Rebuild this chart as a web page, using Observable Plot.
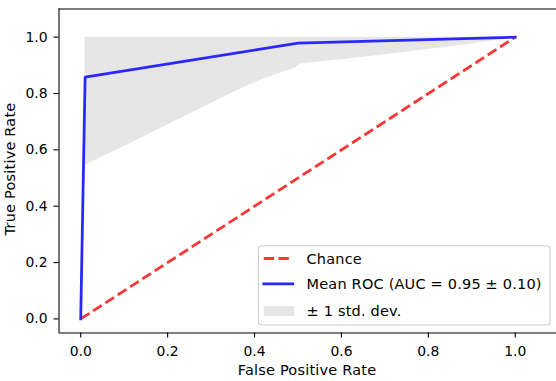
<!DOCTYPE html>
<html>
<head>
<meta charset="utf-8">
<script src="https://cdn.jsdelivr.net/npm/d3@7"></script>
<script src="https://cdn.jsdelivr.net/npm/@observablehq/plot@0.6"></script>
<style>
  html, body { margin: 0; padding: 0; background: #fff; }
  #chart svg { display: block; }
</style>
</head>
<body>
<div id="chart"></div>
<script>
// ---- data ----
const meanFpr = [0, 0.0101, 0.5, 1.0];
const meanTpr = [0, 0.858, 0.979, 1.0];

const bandFpr   = [0.0101, 0.1, 0.2, 0.3, 0.35, 0.4, 0.45, 0.495, 0.505, 0.6, 0.7, 0.8, 0.9, 1.0];
const bandLower = [0.545, 0.612, 0.688, 0.765, 0.803, 0.838, 0.868, 0.891, 0.905, 0.92, 0.938, 0.956, 0.976, 1.0];
const bandUpper = [1.0, 1.0, 1.0, 1.0, 1.0, 1.0, 1.0, 1.0, 1.0, 1.0, 1.0, 1.0, 1.0, 1.0];

const chanceFpr = [0, 1];
const chanceTpr = [0, 1];

const xTicks = [0, 0.2, 0.4, 0.6, 0.8, 1.0];
const yTicks = [0, 0.2, 0.4, 0.6, 0.8, 1.0];
const xDomain = [-0.05, 1.095];
const yDomain = [-0.05, 1.1];

const xLabel = "False Positive Rate";
const yLabel = "True Positive Rate";
const legendLabels = ["Chance", "Mean ROC (AUC = 0.95 \u00b1 0.10)", "\u00b1 1 std. dev."];

// ---- tables ----
const meanData = meanFpr.map((x, i) => ({x, y: meanTpr[i]}));
const bandData = bandFpr.map((x, i) => ({x, lo: bandLower[i], hi: bandUpper[i]}));
const chanceData = chanceFpr.map((x, i) => ({x, y: chanceTpr[i]}));

const FONT = "DejaVu Sans, sans-serif";
const FS = 13.9;
const LFS = 14.5;
const LS = "0.2px";
const RED = "rgb(255,51,51)";
const BLUE = "rgb(40,40,255)";

const svg = Plot.plot({
  width: 556,
  height: 381,
  marginLeft: 58.5,
  marginRight: 0,
  marginTop: 8.5,
  marginBottom: 48.5,
  style: {fontFamily: FONT, fontSize: FS + "px", color: "#000", background: "#fff"},
  x: {domain: xDomain},
  y: {domain: yDomain},
  marks: [
    Plot.areaY(bandData, {x: "x", y1: "lo", y2: "hi", fill: "#808080", fillOpacity: 0.2}),
    Plot.line(chanceData, {x: "x", y: "y", stroke: RED, strokeWidth: 2.78, strokeDasharray: "10.3,4.4", strokeLinecap: "butt"}),
    Plot.line(meanData, {x: "x", y: "y", stroke: BLUE, strokeWidth: 2.78, strokeLinejoin: "round", strokeLinecap: "square"}),
    Plot.axisX({ticks: xTicks, tickFormat: d3.format(".1f"), tickSize: 5, tickPadding: 7.8, fontSize: FS, label: null, strokeWidth: 1.1}),
    Plot.axisY({ticks: yTicks, tickFormat: d3.format(".1f"), tickSize: 5, tickPadding: 6.5, fontSize: FS, label: null, strokeWidth: 1.1}),
    Plot.ruleX([xDomain[0]], {stroke: "#000", strokeWidth: 1.1}),
    Plot.ruleY([yDomain[0], yDomain[1]], {stroke: "#000", strokeWidth: 1.1})
  ]
});

document.getElementById("chart").appendChild(svg);

// axis titles
const root = d3.select(svg);
root.append("text")
  .attr("x", 307).attr("y", 374.5)
  .attr("text-anchor", "middle")
  .attr("font-family", FONT).attr("font-size", LFS)
  .attr("letter-spacing", LS)
  .attr("fill", "#000")
  .text(xLabel);
root.append("text")
  .attr("transform", "translate(14.5,169) rotate(-90)")
  .attr("text-anchor", "middle")
  .attr("font-family", FONT).attr("font-size", LFS)
  .attr("letter-spacing", LS)
  .attr("fill", "#000")
  .text(yLabel);

// legend
const lg = root.append("g").attr("text-anchor", "start");
lg.append("rect")
  .attr("x", 258.5).attr("y", 245.8).attr("width", 291.5).attr("height", 79.2)
  .attr("rx", 3).attr("ry", 3)
  .attr("fill", "#fff").attr("fill-opacity", 0.8)
  .attr("stroke", "#cccccc").attr("stroke-width", 1.1);
const hx0 = 263.8, hx1 = 292.8, tx = 306.5;
const rows = [258.5, 283.8, 311];
lg.append("line").attr("x1", hx0).attr("x2", hx1).attr("y1", rows[0]).attr("y2", rows[0])
  .attr("stroke", RED).attr("stroke-width", 2.78).attr("stroke-dasharray", "10.3,4.4");
lg.append("line").attr("x1", hx0).attr("x2", hx1).attr("y1", rows[1]).attr("y2", rows[1])
  .attr("stroke", BLUE).attr("stroke-width", 2.78).attr("stroke-linecap", "square");
lg.append("rect").attr("x", hx0).attr("y", rows[2] - 4.9).attr("width", hx1 - hx0 + 1.5).attr("height", 9.8)
  .attr("fill", "#808080").attr("fill-opacity", 0.2);
legendLabels.forEach((t, i) => {
  lg.append("text")
    .attr("x", tx).attr("y", rows[i] + 0.36 * LFS)
    .attr("text-anchor", "start")
    .attr("font-family", FONT).attr("font-size", LFS)
    .attr("letter-spacing", LS)
    .attr("fill", "#000")
    .text(t);
});
</script>
</body>
</html>
